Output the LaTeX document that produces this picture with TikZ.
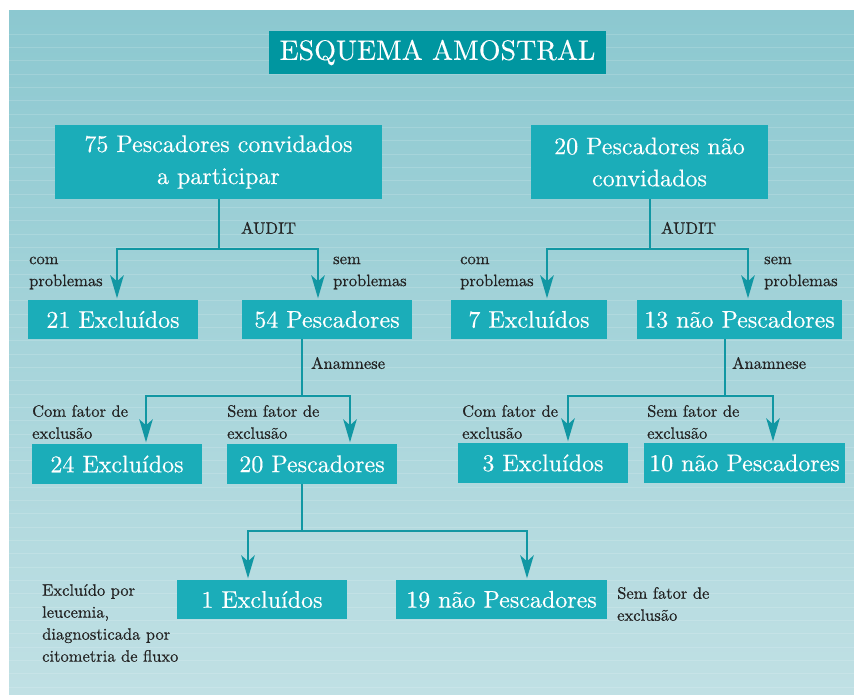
\documentclass[tikz,border=0pt]{standalone}
\usepackage{fontspec}
\setmainfont{lmroman10-regular.otf}
\newfontfamily\labfont{lmroman10-regular.otf}[FakeBold=0.6]
\newfontfamily\boxfont{lmroman10-regular.otf}[FakeBold=0.35]
\usetikzlibrary{arrows.meta}
\definecolor{bgtop}{HTML}{8CC8D0}
\definecolor{bgbot}{HTML}{C0E0E4}
\definecolor{titlefill}{HTML}{0096A0}
\definecolor{boxfill}{HTML}{1BADB9}
\definecolor{linecol}{HTML}{1197A3}
\definecolor{labcol}{HTML}{232323}
\begin{document}
\begin{tikzpicture}[x=1pt,y=-1pt,
  box/.style={fill=boxfill, text=white, inner sep=0pt, align=center,
    font=\boxfont\fontsize{24}{32}\selectfont, minimum height=39pt},
  titlebox/.style={fill=titlefill, text=white, inner sep=0pt,
    font=\boxfont\fontsize{28}{32}\selectfont, minimum width=337pt, minimum height=43pt},
  lab/.style={text=labcol, font=\labfont\fontsize{16.5}{22}\selectfont, align=left,
    anchor=west, inner sep=0pt},
  conn/.style={draw=linecol, line width=1.8pt},
  arr/.style={conn, -{Stealth[length=23pt,width=13.5pt,inset=6pt]}, shorten >=1.5pt}
]
\useasboundingbox (0,0) rectangle (854,694);
% background
\shade[top color=bgtop, bottom color=bgbot] (9,10) rectangle (854,694);
\foreach \k in {0,...,49}
  \draw[white, opacity=0.15, line width=0.8pt] (9,34+13.33*\k) -- (854,34+13.33*\k);

% title
\node[titlebox] (title) at (437.5,52.5) {ESQUEMA AMOSTRAL};

% boxes
\node[box, minimum width=327pt, minimum height=74pt] (b75) at (218.5,162) {75 Pescadores convidados\\a participar};
\node[box, minimum width=237pt, minimum height=74pt] (b20t) at (649.5,162) {20 Pescadores não\\convidados};
\node[box, minimum width=170pt] (b21) at (113,319.5) {21 Excluídos};
\node[box, minimum width=170pt] (b54) at (327,319.5) {54 Pescadores};
\node[box, minimum width=156pt] (b7) at (529,319.5) {7 Excluídos};
\node[box, minimum width=205pt] (b13) at (739.5,319.5) {13 não Pescadores};
\node[box, minimum width=170pt, minimum height=40pt] (b24) at (117,464) {24 Excluídos};
\node[box, minimum width=170pt, minimum height=40pt] (b20) at (312,464) {20 Pescadores};
\node[box, minimum width=170pt, minimum height=40pt] (b3) at (543,463) {3 Excluídos};
\node[box, minimum width=201pt, minimum height=40pt] (b10) at (744.5,463) {10 não Pescadores};
\node[box, minimum width=170pt] (b1) at (262,599.5) {1 Excluídos};
\node[box, minimum width=211pt] (b19) at (501.5,599.5) {19 não Pescadores};

% junctions
\coordinate (j1) at (219,249);
\coordinate (j2) at (650,249);
\coordinate (j3) at (302,396);
\coordinate (j4) at (725,396);
\coordinate (j5) at (302,531);

% connectors
\draw[conn] (j1 |- b75.south) -- (j1);
\draw[arr] (j1) -| ([xshift=4pt]b21.north);
\draw[arr] (j1) -| ([xshift=-9pt]b54.north);

\draw[conn] (j2 |- b20t.south) -- (j2);
\draw[arr] (j2) -| ([xshift=18pt]b7.north);
\draw[arr] (j2) -| ([xshift=8.5pt]b13.north);

\draw[conn] (j3 |- b54.south) -- (j3);
\draw[arr] (j3) -| ([xshift=29pt]b24.north);
\draw[arr] (j3) -| ([xshift=38pt]b20.north);

\draw[conn] (j4 |- b13.south) -- (j4);
\draw[arr] (j4) -| ([xshift=25pt]b3.north);
\draw[arr] (j4) -| ([xshift=28.5pt]b10.north);

\draw[conn] (j5 |- b20.south) -- (j5);
\draw[arr] (j5) -| ([xshift=-14pt]b1.north);
\draw[arr] (j5) -| ([xshift=25.5pt]b19.north);

% labels
\node[lab] (la1) at (241,228) {AUDIT};
\node[lab] (la2) at (661,228) {AUDIT};
\node[lab] (lc1) at (29,273) {com\\problemas};
\node[lab] (ls1) at (333,273) {sem\\problemas};
\node[lab] (lc2) at (460,273) {com\\problemas};
\node[lab] (ls2) at (764,273) {sem\\problemas};
\node[lab] (ln1) at (311,363) {Anamnese};
\node[lab] (ln2) at (732,363) {Anamnese};
\node[lab] (lf1) at (32,422) {Com fator de\\exclusão};
\node[lab] (lf2) at (227,422) {Sem fator de\\exclusão};
\node[lab] (lf3) at (462,422) {Com fator de\\exclusão};
\node[lab] (lf4) at (647,422) {Sem fator de\\exclusão};
\node[lab] (lx) at (42,623) {Excluído por\\leucemia,\\diagnosticada por\\citometria de fluxo};
\node[lab] (ly) at (617,604) {Sem fator de\\exclusão};
\end{tikzpicture}
\end{document}
